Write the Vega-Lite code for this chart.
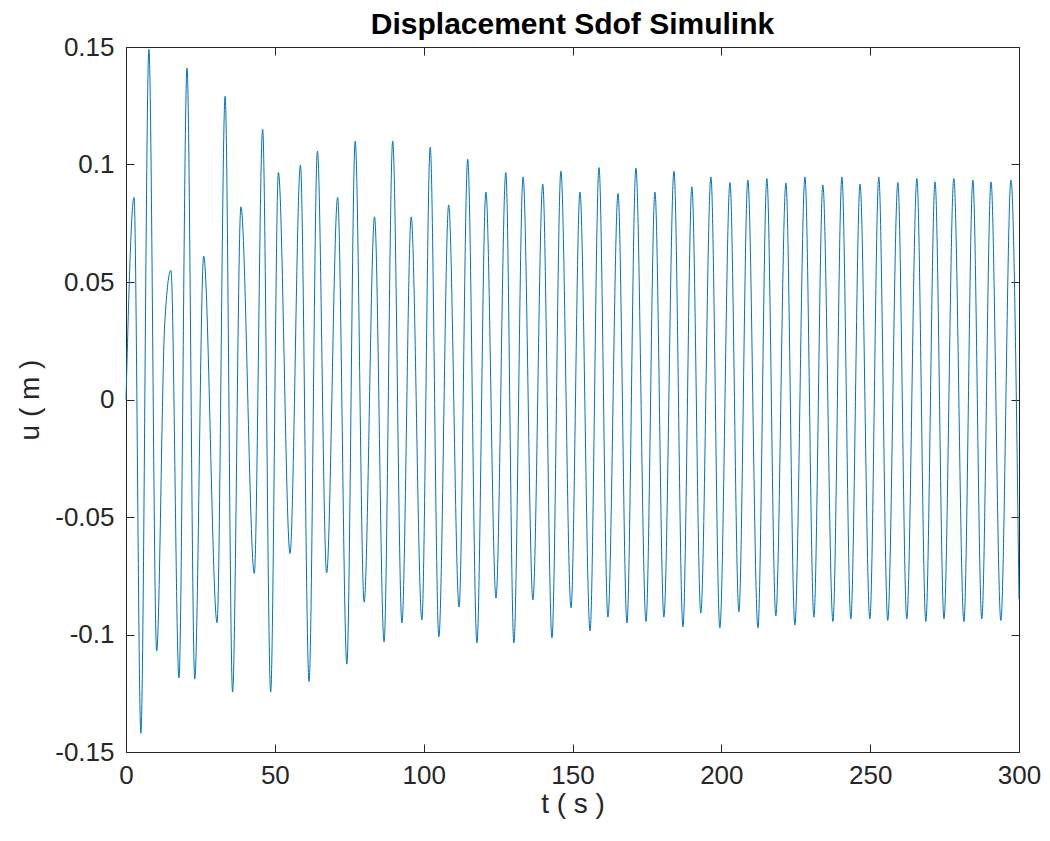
{
  "$schema": "https://vega.github.io/schema/vega-lite/v6.json",
  "width": 893,
  "height": 705,
  "autosize": {"type": "none"},
  "padding": {"left": 126, "top": 47, "right": 31, "bottom": 89},
  "background": "white",
  "title": {"text": "Displacement Sdof Simulink", "fontSize": 30, "fontWeight": "bold", "font": "Liberation Sans", "color": "#000000", "offset": -6, "anchor": "middle"},
  "data": {"values": [
    {"t": 0, "u": 0}, {"t": 2.7, "u": 0.086}, {"t": 5.0, "u": -0.142}, {"t": 7.7, "u": 0.149}, {"t": 10.3, "u": -0.107},
    {"t": 13.0, "u": 0.032}, {"t": 15.1, "u": 0.055}, {"t": 17.8, "u": -0.1185}, {"t": 20.5, "u": 0.141}, {"t": 23.1, "u": -0.119},
    {"t": 26.1, "u": 0.061}, {"t": 30.6, "u": -0.095}, {"t": 33.3, "u": 0.129}, {"t": 35.8, "u": -0.1245}, {"t": 38.6, "u": 0.082},
    {"t": 43.1, "u": -0.074}, {"t": 45.9, "u": 0.115}, {"t": 48.6, "u": -0.1245}, {"t": 51.2, "u": 0.0966}, {"t": 55.1, "u": -0.0655},
    {"t": 58.6, "u": 0.0998}, {"t": 61.5, "u": -0.12}, {"t": 64.3, "u": 0.1057}, {"t": 67.4, "u": -0.0738}, {"t": 71.1, "u": 0.086},
    {"t": 74.2, "u": -0.1126}, {"t": 77.0, "u": 0.110}, {"t": 80.0, "u": -0.0862}, {"t": 83.5, "u": 0.0777}, {"t": 86.7, "u": -0.1032},
    {"t": 89.6, "u": 0.110}, {"t": 92.7, "u": -0.0951}, {"t": 95.8, "u": 0.0777}, {"t": 99.4, "u": -0.0938}, {"t": 102.2, "u": 0.1074},
    {"t": 105.1, "u": -0.101}, {"t": 108.4, "u": 0.0828}, {"t": 111.9, "u": -0.0883}, {"t": 114.8, "u": 0.1023}, {"t": 117.9, "u": -0.1036},
    {"t": 120.9, "u": 0.0883}, {"t": 124.3, "u": -0.0845}, {"t": 127.6, "u": 0.0966}, {"t": 130.3, "u": -0.1036}, {"t": 133.4, "u": 0.0947},
    {"t": 136.7, "u": -0.0853}, {"t": 140.0, "u": 0.0917}, {"t": 143.1, "u": -0.1015}, {"t": 146.1, "u": 0.0972}, {"t": 149.5, "u": -0.0887},
    {"t": 152.5, "u": 0.0883}, {"t": 155.9, "u": -0.0985}, {"t": 158.9, "u": 0.0987}, {"t": 161.9, "u": -0.0926}, {"t": 165.3, "u": 0.0877},
    {"t": 168.3, "u": -0.0951}, {"t": 171.3, "u": 0.0985}, {"t": 174.7, "u": -0.0945}, {"t": 177.7, "u": 0.0883}, {"t": 180.7, "u": -0.0926},
    {"t": 184.1, "u": 0.0972}, {"t": 187.1, "u": -0.0968}, {"t": 190.1, "u": 0.0905}, {"t": 193.1, "u": -0.0909}, {"t": 196.5, "u": 0.0947},
    {"t": 199.5, "u": -0.0972}, {"t": 202.9, "u": 0.0923}, {"t": 205.9, "u": -0.0904}, {"t": 208.9, "u": 0.0934}, {"t": 212.3, "u": -0.0972},
    {"t": 215.3, "u": 0.094}, {"t": 218.3, "u": -0.0921}, {"t": 221.7, "u": 0.0921}, {"t": 224.7, "u": -0.096}, {"t": 228.1, "u": 0.0947},
    {"t": 231.1, "u": -0.0926}, {"t": 234.1, "u": 0.0913}, {"t": 237.5, "u": -0.0945}, {"t": 240.5, "u": 0.0947}, {"t": 243.5, "u": -0.0934},
    {"t": 246.6, "u": 0.0917}, {"t": 249.9, "u": -0.0934}, {"t": 252.9, "u": 0.0947}, {"t": 255.9, "u": -0.094}, {"t": 259.3, "u": 0.0923},
    {"t": 262.3, "u": -0.0934}, {"t": 265.7, "u": 0.094}, {"t": 268.7, "u": -0.0945}, {"t": 271.8, "u": 0.0926}, {"t": 274.8, "u": -0.0934},
    {"t": 278.1, "u": 0.094}, {"t": 281.5, "u": -0.0945}, {"t": 284.5, "u": 0.0934}, {"t": 287.5, "u": -0.0934}, {"t": 290.6, "u": 0.0926},
    {"t": 293.9, "u": -0.094}, {"t": 297.3, "u": 0.0934}, {"t": 300, "u": -0.085}
  ]},
  "layer": [
    {
      "mark": {"type": "line", "interpolate": "monotone", "color": "#0072BD", "strokeWidth": 1},
      "encoding": {
        "x": {"field": "t", "type": "quantitative", "scale": {"domain": [0, 300], "nice": false, "zero": false, "padding": 0},
              "axis": {"orient": "bottom", "title": "t ( s )", "values": [0, 50, 100, 150, 200, 250, 300], "labelFlush": false, "labelPadding": 18, "titlePadding": 2}},
        "y": {"field": "u", "type": "quantitative", "scale": {"domain": [-0.15, 0.15], "nice": false, "zero": false, "padding": 0},
              "axis": {"orient": "left", "title": "u ( m )", "values": [-0.15, -0.1, -0.05, 0, 0.05, 0.1, 0.15], "labelFlush": false, "labelExpr": "'' + datum.value", "titlePadding": 10}}
      }
    },
    {
      "mark": {"type": "line", "opacity": 0},
      "encoding": {
        "x": {"field": "t", "type": "quantitative", "scale": {"domain": [0, 300], "nice": false, "zero": false, "padding": 0},
              "axis": {"orient": "top", "title": null, "labels": false, "values": [0, 50, 100, 150, 200, 250, 300]}},
        "y": {"field": "u", "type": "quantitative", "scale": {"domain": [-0.15, 0.15], "nice": false, "zero": false, "padding": 0},
              "axis": {"orient": "right", "title": null, "labels": false, "values": [-0.15, -0.1, -0.05, 0, 0.05, 0.1, 0.15]}}
      }
    }
  ],
  "resolve": {"axis": {"x": "independent", "y": "independent"}},
  "config": {
    "view": {"stroke": "#262626", "strokeWidth": 1},
    "axis": {
      "grid": false,
      "domain": false,
      "tickColor": "#262626",
      "tickSize": -8,
      "tickWidth": 1,
      "labelPadding": 20,
      "labelFont": "Liberation Sans",
      "labelFontSize": 26,
      "labelColor": "#262626",
      "titleFont": "Liberation Sans",
      "titleFontSize": 28,
      "titleFontWeight": "normal",
      "titleColor": "#262626"
    }
  }
}
